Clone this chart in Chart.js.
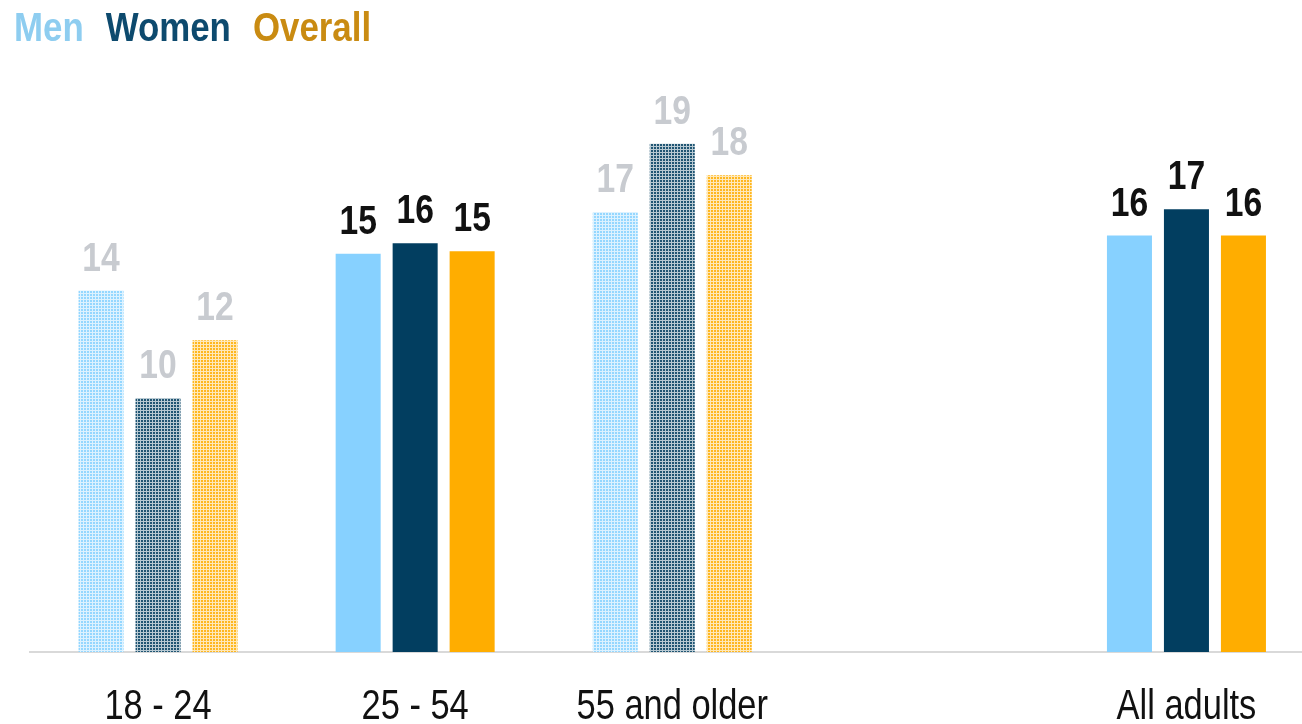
<!DOCTYPE html>
<html>
<head>
<meta charset="utf-8">
<script src="https://cdn.jsdelivr.net/npm/chart.js@4.4.1/dist/chart.umd.min.js"></script>
<style>
  html, body { margin: 0; padding: 0; background: #fff; overflow: hidden; }
  canvas { display: block; }
</style>
</head>
<body>
<canvas id="age" width="1315" height="724"></canvas>
<script>
// =====================
// Age group chart
// =====================
var categories = ["18 - 24", "25 - 54", "55 and older", "", "All adults"];
var menValues = [13.8, 15.2, 16.8, null, 15.9];
var womenValues = [9.7, 15.6, 19.4, null, 16.9];
var overallValues = [11.9, 15.3, 18.2, null, 15.9];
// groups drawn hatched with grey labels
var faded = [true, false, true, false, false];

var FONT = "'Liberation Sans', Arial, sans-serif";
var SQUEEZE = 0.82; // narrow type, like Arial Narrow

function mix(hex, t) {
  var n = parseInt(hex.slice(1), 16);
  var r = n >> 16, g = (n >> 8) & 255, b = n & 255;
  r = Math.round(r + (255 - r) * t);
  g = Math.round(g + (255 - g) * t);
  b = Math.round(b + (255 - b) * t);
  return 'rgb(' + r + ',' + g + ',' + b + ')';
}

function dots(color) {
  var c = document.createElement('canvas');
  c.width = 3; c.height = 3;
  var g = c.getContext('2d');
  g.fillStyle = mix(color, 0.72);
  g.fillRect(0, 0, 3, 3);
  g.fillStyle = mix(color, 0.12);
  g.fillRect(0, 0, 2, 2);
  return g.createPattern(c, 'repeat');
}

function fills(color) {
  var p = dots(color);
  return faded.map(function (f) { return f ? p : color; });
}

// narrow text: squeeze horizontally around x
function narrowText(c, text, x, y, align, sq) {
  c.save();
  c.translate(x, y);
  c.scale(sq || SQUEEZE, 1);
  c.textAlign = align;
  c.fillText(text, 0, 0);
  c.restore();
}

var ctxAge = document.getElementById("age").getContext("2d");

var legendColors = ['#8ECDF0', '#0D4A6E', '#C98B12'];

var textLegend = {
  id: 'textLegend',
  afterDraw: function (chart) {
    var c = chart.ctx;
    c.save();
    c.font = 'bold 41px ' + FONT;
    c.textBaseline = 'alphabetic';
    var x = 14;
    chart.data.datasets.forEach(function (ds, i) {
      c.fillStyle = legendColors[i];
      narrowText(c, ds.label, x, 41, 'left', 0.85);
      x += c.measureText(ds.label).width * 0.85 + 22;
    });
    c.restore();
  }
};

var barLabels = {
  id: 'barLabels',
  afterDatasetsDraw: function (chart) {
    var c = chart.ctx;
    c.save();
    c.font = 'bold 41px ' + FONT;
    c.textBaseline = 'alphabetic';
    chart.data.datasets.forEach(function (ds, i) {
      chart.getDatasetMeta(i).data.forEach(function (bar, j) {
        var v = ds.data[j];
        if (v === null) return;
        c.fillStyle = faded[j] ? '#C8CBD0' : '#111111';
        narrowText(c, String(Math.round(v)), bar.x, bar.y - 20, 'center');
      });
    });
    c.restore();
  }
};

var tickLabels = {
  id: 'tickLabels',
  afterDraw: function (chart) {
    var c = chart.ctx;
    var xs = chart.scales.x;
    c.save();
    c.font = '42px ' + FONT;
    c.fillStyle = '#111111';
    c.textBaseline = 'alphabetic';
    categories.forEach(function (lab, i) {
      narrowText(c, lab, xs.getPixelForValue(i), 719, 'center');
    });
    c.restore();
  }
};

var ageChart = new Chart(ctxAge, {
  type: 'bar',
  data: {
    labels: categories,
    datasets: [
      { label: 'Men', data: menValues, backgroundColor: fills('#87D1FF') },
      { label: 'Women', data: womenValues, backgroundColor: fills('#023E60') },
      { label: 'Overall', data: overallValues, backgroundColor: fills('#FFAD00') }
    ]
  },
  options: {
    responsive: false,
    animation: false,
    layout: { padding: { left: 29.5, top: 60, right: 0, bottom: 0 } },
    datasets: {
      bar: { categoryPercentage: 0.665, barPercentage: 0.79 }
    },
    plugins: {
      legend: { display: false },
      tooltip: { enabled: false }
    },
    scales: {
      x: {
        grid: { display: false },
        border: { display: true, color: '#D9D9D9', width: 2 },
        ticks: { display: false },
        afterFit: function (scale) { scale.height = 72; }
      },
      y: {
        display: false,
        min: 0,
        max: 22.6
      }
    }
  },
  plugins: [textLegend, barLabels, tickLabels]
});
</script>
</body>
</html>
